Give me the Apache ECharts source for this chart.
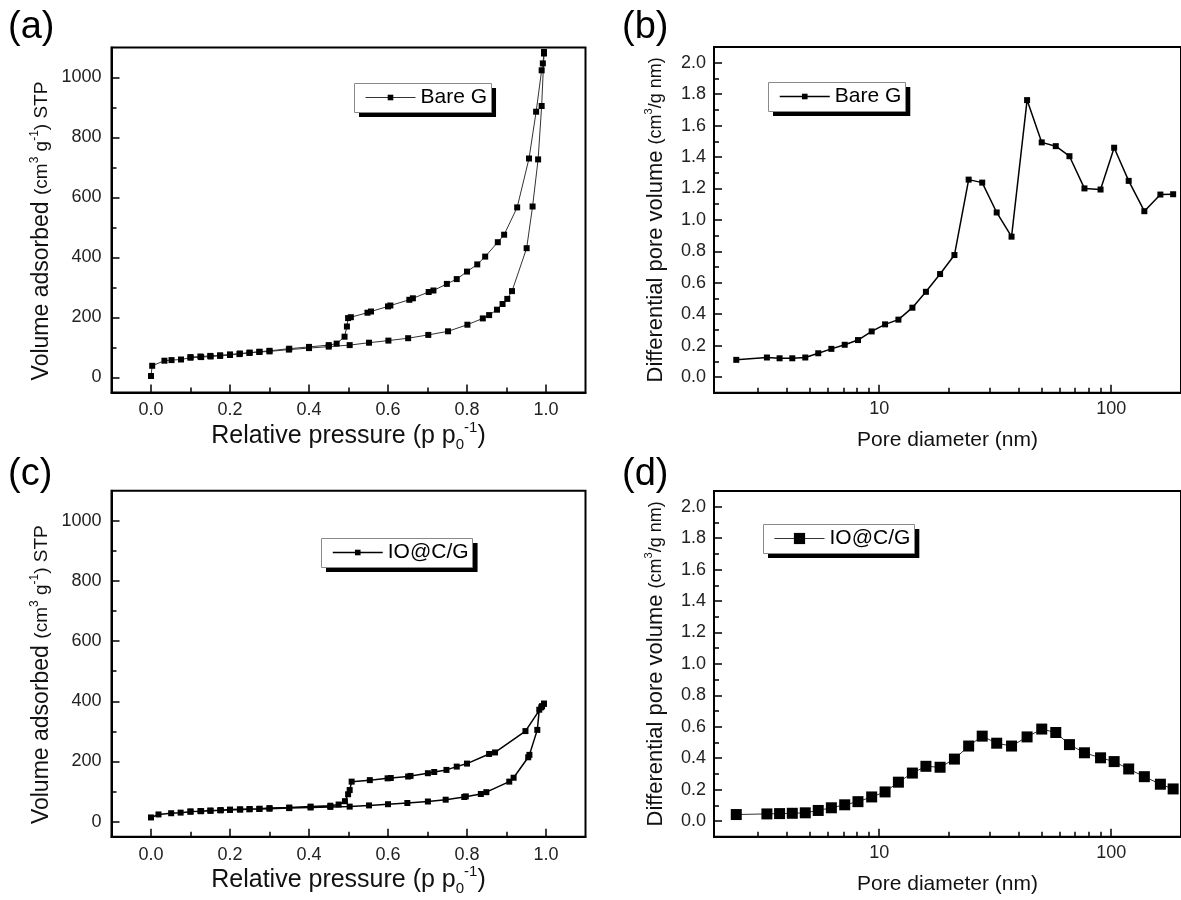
<!DOCTYPE html>
<html>
<head>
<meta charset="utf-8">
<script src="https://cdn.jsdelivr.net/npm/echarts@6/dist/echarts.min.js"></script>
<style>
  html, body { margin: 0; padding: 0; background: #fff; }
  #chart { width: 1181px; height: 900px; }
</style>
</head>
<body>
<div id="chart"></div>
<script>
// (a) Bare G isotherm, adsorption then desorption branch
const bareAdsP = [0.0, 0.003, 0.034, 0.052, 0.076, 0.1, 0.127, 0.151, 0.175, 0.2, 0.224, 0.249, 0.274, 0.3, 0.349, 0.4, 0.45, 0.503, 0.552, 0.601, 0.651, 0.702, 0.752, 0.801, 0.84, 0.856, 0.876, 0.89, 0.902, 0.914, 0.951, 0.966, 0.98, 0.989, 0.995]
const bareAdsV = [5, 39, 56, 58, 60, 66, 68, 70, 72, 75, 78, 82, 85, 87, 93, 98, 103, 108, 116, 123, 131, 142, 154, 176, 197, 208, 226, 245, 262, 288, 431, 570, 727, 905, 1080]
const bareDesP = [0.995, 0.992, 0.989, 0.975, 0.957, 0.927, 0.894, 0.878, 0.846, 0.826, 0.8, 0.774, 0.749, 0.715, 0.703, 0.663, 0.654, 0.606, 0.6, 0.557, 0.548, 0.506, 0.499, 0.496, 0.49, 0.47, 0.45, 0.4, 0.35, 0.3, 0.275, 0.25, 0.225, 0.2, 0.175, 0.15, 0.125, 0.1]
const bareDesV = [1085, 1047, 1024, 886, 730, 567, 476, 451, 403, 377, 353, 328, 312, 290, 285, 264, 259, 240, 237, 220, 216, 201, 198, 170, 136, 113, 108, 102, 96, 89, 86, 83, 80, 77, 74, 72, 70, 68]

// (c) IO@C/G isotherm
const iocgAdsP = [0.0, 0.019, 0.051, 0.075, 0.1, 0.127, 0.151, 0.177, 0.2, 0.226, 0.249, 0.274, 0.3, 0.35, 0.404, 0.454, 0.503, 0.552, 0.6, 0.649, 0.701, 0.746, 0.793, 0.797, 0.835, 0.849, 0.907, 0.918, 0.955, 0.958, 0.978, 0.983, 0.99, 0.995]
const iocgAdsV = [14, 24, 28, 30, 33, 35, 36, 38, 39, 40, 41, 42, 43, 45, 47, 49, 50, 54, 58, 62, 67, 73, 82, 84, 92, 98, 133, 146, 214, 222, 305, 372, 384, 392]
const iocgDesP = [0.995, 0.988, 0.948, 0.871, 0.856, 0.8, 0.774, 0.748, 0.717, 0.701, 0.657, 0.651, 0.607, 0.599, 0.554, 0.508, 0.503, 0.499, 0.491, 0.475, 0.454, 0.404, 0.35, 0.3, 0.275, 0.25, 0.225, 0.2, 0.175, 0.15, 0.125, 0.1]
const iocgDesV = [392, 380, 301, 230, 225, 193, 183, 172, 165, 161, 152, 150, 145, 144, 138, 133, 105, 91, 68, 57, 53, 50, 47, 45, 43, 42, 41, 40, 38, 37, 35, 34]

// (b)/(d) pore size distribution
const poreD = [2.42, 3.28, 3.72, 4.22, 4.8, 5.46, 6.22, 7.1, 8.1, 9.28, 10.6, 12.1, 13.9, 15.9, 18.3, 21.1, 24.3, 27.8, 32.1, 37.2, 43.4, 50.2, 57.7, 66.1, 76.7, 90, 103, 119, 139, 163, 185]
const bareDv = [0.109, 0.124, 0.119, 0.119, 0.124, 0.151, 0.179, 0.205, 0.235, 0.29, 0.335, 0.365, 0.441, 0.542, 0.655, 0.776, 1.256, 1.237, 1.047, 0.893, 1.762, 1.493, 1.469, 1.405, 1.2, 1.193, 1.459, 1.248, 1.055, 1.161, 1.163]
const iocgDv = [0.041, 0.045, 0.047, 0.049, 0.052, 0.067, 0.084, 0.103, 0.123, 0.153, 0.185, 0.247, 0.305, 0.348, 0.342, 0.394, 0.477, 0.54, 0.495, 0.477, 0.535, 0.585, 0.563, 0.486, 0.434, 0.402, 0.378, 0.331, 0.282, 0.234, 0.204]

// ticks
const pressTicks = [0, 0.2, 0.4, 0.6, 0.8, 1.0]
const pressMinor = [0.1, 0.3, 0.5, 0.7, 0.9]
const volTicks = [0, 200, 400, 600, 800, 1000]
const volMinor = [100, 300, 500, 700, 900]
const dvTicks = [0, 0.2, 0.4, 0.6, 0.8, 1.0, 1.2, 1.4, 1.6, 1.8, 2.0]
const dvMinor = [0.1, 0.3, 0.5, 0.7, 0.9, 1.1, 1.3, 1.5, 1.7, 1.9]
const poreTicks = [10, 100]
const poreMinor = [3, 4, 5, 6, 7, 8, 9, 20, 30, 40, 50, 60, 70, 80, 90]

const FONT = '"Liberation Sans", Arial, sans-serif'
const TICK_FONT = 18

function pairs(xs, ys) {
  return xs.map((x, i) => [x, ys[i]])
}

const tickLine = { color: '#000', width: 1.5 }

function axisPair(gi, dim, type, min, max, major, minor, fmt, margin, name, nameGap, nameStyle) {
  const base = { gridIndex: gi, type: type, min: min, max: max, splitLine: { show: false } }
  if (type === 'log') base.logBase = 10
  base.position = dim === 'x' ? 'bottom' : 'left'
  const main = Object.assign({}, base, {
    axisLine: { show: true, onZero: false, lineStyle: { color: '#000', width: 2 } },
    axisTick: { show: true, inside: true, length: 8, lineStyle: tickLine, customValues: major },
    axisLabel: { show: true, customValues: major, formatter: fmt, margin: margin, color: '#222', fontSize: TICK_FONT, fontFamily: FONT },
    name: name,
    nameLocation: 'middle',
    nameGap: nameGap,
    nameTextStyle: nameStyle
  })
  // minor ticks ride on a second, line-less axis sharing the same grid edge
  const sub = Object.assign({}, base, {
    axisLine: { show: false, onZero: false },
    axisTick: { show: true, inside: true, length: 5, lineStyle: tickLine, customValues: minor },
    axisLabel: { show: false }
  })
  return [main, sub]
}

const fix1 = v => Number(v).toFixed(1)
const intFmt = v => String(Math.round(v))
const logFmt = v => String(Math.round(v))

const pressName = '{m|Relative pressure (p p}{sub|0}{sup|-1}{m|)}'
const pressStyle = {
  fontFamily: FONT, color: '#111',
  rich: {
    m: { fontSize: 25, lineHeight: 32, fontFamily: FONT, color: '#111' },
    sub: { fontSize: 15, lineHeight: 15, verticalAlign: 'bottom', fontFamily: FONT, color: '#111' },
    sup: { fontSize: 15, lineHeight: 15, verticalAlign: 'top', fontFamily: FONT, color: '#111' }
  }
}
const volName = '{m|Volume adsorbed }{s|(cm}{sup|3}{s| g}{sup|-1}{s|) STP}'
const dvName = '{m|Differential pore volume }{s|(cm}{sup|3}{s|/g nm)}'
const volStyle = {
  fontFamily: FONT, color: '#111', padding: [0, 22, 0, 0],
  rich: {
    m: { fontSize: 23, lineHeight: 27, fontFamily: FONT, color: '#111' },
    s: { fontSize: 19, lineHeight: 27, fontFamily: FONT, color: '#111' },
    sup: { fontSize: 12, lineHeight: 12, verticalAlign: 'top', fontFamily: FONT, color: '#111' }
  }
}
const dvStyle = {
  fontFamily: FONT, color: '#111',
  rich: {
    m: { fontSize: 22, lineHeight: 26, fontFamily: FONT, color: '#111' },
    s: { fontSize: 18, lineHeight: 26, fontFamily: FONT, color: '#111' },
    sup: { fontSize: 11, lineHeight: 11, verticalAlign: 'top', fontFamily: FONT, color: '#111' }
  }
}
const poreStyle = { fontFamily: FONT, color: '#111', fontSize: 21, lineHeight: 24 }

const xAxes = [].concat(
  axisPair(0, 'x', 'value', -0.1, 1.1, pressTicks, pressMinor, fix1, 9, pressName, 24, pressStyle),
  axisPair(1, 'x', 'log', 1.94, 200, poreTicks, poreMinor, logFmt, 7, 'Pore diameter (nm)', 36, poreStyle),
  axisPair(2, 'x', 'value', -0.1, 1.1, pressTicks, pressMinor, fix1, 9, pressName, 24, pressStyle),
  axisPair(3, 'x', 'log', 1.94, 200, poreTicks, poreMinor, logFmt, 7, 'Pore diameter (nm)', 36, poreStyle)
)
const yAxes = [].concat(
  axisPair(0, 'y', 'value', -50, 1100, volTicks, volMinor, intFmt, 10, volName, 56, volStyle),
  axisPair(1, 'y', 'value', -0.1, 2.1, dvTicks, dvMinor, fix1, 8, dvName, 45, dvStyle),
  axisPair(2, 'y', 'value', -50, 1100, volTicks, volMinor, intFmt, 10, volName, 56, volStyle),
  axisPair(3, 'y', 'value', -0.1, 2.1, dvTicks, dvMinor, fix1, 8, dvName, 45, dvStyle)
)

const gridBox = { show: true, borderColor: '#000', borderWidth: 2, backgroundColor: 'transparent' }
const grids = [
  Object.assign({ left: 111.5, top: 47.5, width: 474, height: 345 }, gridBox),
  Object.assign({ left: 714, top: 47, width: 469, height: 345.7 }, gridBox),
  Object.assign({ left: 111.5, top: 490.7, width: 474, height: 346 }, gridBox),
  Object.assign({ left: 714, top: 491, width: 469, height: 345.7 }, gridBox)
]

// legend frames: ECharts draws the black drop shadow, the thin grey edge is added on top
const LEG_FONT = 21
const LEG_PAD = [4, 4, 4, 11]
const measureCtx = document.createElement('canvas').getContext('2d')
function textWidth(t, size) {
  measureCtx.font = size + 'px ' + FONT
  return measureCtx.measureText(t).width
}

const legendDefs = [
  { name: 'Bare G', left: 354, top: 83, itemHeight: 7, line: { color: '#333', width: 1 } },
  { name: 'Bare G', left: 768, top: 82, itemHeight: 7, line: { color: '#000', width: 1.5 } },
  { name: 'IO@C/G', left: 321, top: 538, itemHeight: 7, line: { color: '#000', width: 1.5 } },
  { name: 'IO@C/G', left: 763, top: 524, itemHeight: 14, line: { color: '#333', width: 1 } }
]

const legends = legendDefs.map(d => ({
  data: [d.name],
  left: d.left,
  top: d.top,
  itemWidth: 50,
  itemHeight: d.itemHeight,
  padding: LEG_PAD,
  backgroundColor: '#fff',
  borderWidth: 0,
  shadowColor: '#000',
  shadowBlur: 0,
  shadowOffsetX: 5,
  shadowOffsetY: 5,
  selectedMode: false,
  lineStyle: d.line,
  textStyle: { fontSize: LEG_FONT, fontFamily: FONT, color: '#000' }
}))

const legendFrames = legendDefs.map(d => {
  const w = LEG_PAD[3] + 50 + 5 + textWidth(d.name, LEG_FONT) + LEG_PAD[1]
  const h = LEG_PAD[0] + Math.max(d.itemHeight, LEG_FONT) + LEG_PAD[2]
  return {
    type: 'rect', z: 100, silent: true,
    shape: { x: d.left + 0.5, y: d.top + 0.5, width: Math.round(w), height: h },
    style: { fill: null, stroke: '#8a8a8a', lineWidth: 1 }
  }
})

const panelTitle = (text, left, top) => ({
  text: text, left: left, top: top, padding: 0,
  textStyle: { fontSize: 38, fontWeight: 'normal', fontFamily: FONT, color: '#000' }
})

const chart = echarts.init(document.getElementById('chart'))
chart.setOption({
  animation: false,
  backgroundColor: '#fff',
  title: [
    panelTitle('(a)', 8, 9),
    panelTitle('(b)', 622, 9),
    panelTitle('(c)', 8, 456),
    panelTitle('(d)', 622, 456)
  ],
  legend: legends,
  graphic: legendFrames,
  grid: grids,
  xAxis: xAxes,
  yAxis: yAxes,
  series: [
    {
      name: 'Bare G', type: 'line', xAxisIndex: 0, yAxisIndex: 0,
      data: pairs(bareAdsP, bareAdsV).concat(pairs(bareDesP, bareDesV)),
      symbol: 'rect', symbolSize: 6,
      lineStyle: { color: '#333', width: 1 },
      itemStyle: { color: '#000' }
    },
    {
      name: 'Bare G', type: 'line', xAxisIndex: 2, yAxisIndex: 2,
      data: pairs(poreD, bareDv),
      symbol: 'rect', symbolSize: 6,
      lineStyle: { color: '#000', width: 1.5 },
      itemStyle: { color: '#000' }
    },
    {
      name: 'IO@C/G', type: 'line', xAxisIndex: 4, yAxisIndex: 4,
      data: pairs(iocgAdsP, iocgAdsV).concat(pairs(iocgDesP, iocgDesV)),
      symbol: 'rect', symbolSize: 6,
      lineStyle: { color: '#000', width: 1.5 },
      itemStyle: { color: '#000' }
    },
    {
      name: 'IO@C/G', type: 'line', xAxisIndex: 6, yAxisIndex: 6,
      data: pairs(poreD, iocgDv),
      symbol: 'rect', symbolSize: 11,
      lineStyle: { color: '#333', width: 1 },
      itemStyle: { color: '#000' }
    }
  ]
})
</script>
</body>
</html>
